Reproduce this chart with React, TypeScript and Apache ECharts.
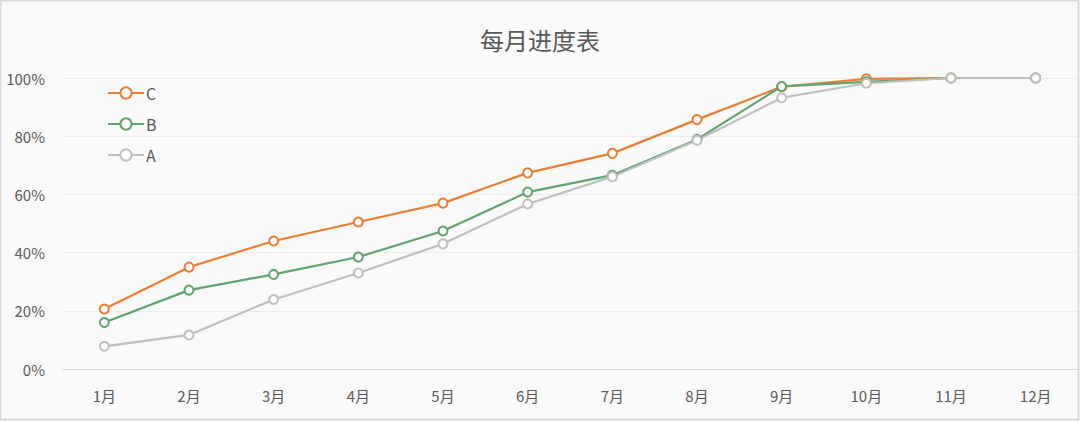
import React, { useEffect, useRef } from "react";
import * as echarts from "echarts";

const months = ["1月", "2月", "3月", "4月", "5月", "6月", "7月", "8月", "9月", "10月", "11月", "12月"];
const seriesC = [0.206, 0.35, 0.44, 0.505, 0.57, 0.674, 0.741, 0.857, 0.97, 0.997, 1.0, 1.0];
const seriesB = [0.16, 0.271, 0.325, 0.385, 0.474, 0.608, 0.666, 0.789, 0.971, 0.987, 1.0, 1.0];
const seriesA = [0.078, 0.117, 0.239, 0.33, 0.43, 0.567, 0.661, 0.786, 0.932, 0.982, 1.0, 1.0];
const yTicks = [0, 0.2, 0.4, 0.6, 0.8, 1.0];

const FONT = "'Noto Sans CJK SC', 'Noto Sans', sans-serif";

export default function App() {
  const ref = useRef<HTMLDivElement>(null);
  useEffect(() => {
    document.body.style.margin = "0";
    if (!ref.current) return;
    const chart = echarts.init(ref.current, null, { renderer: "svg" });
    const mk = (name: string, data: number[], color: string) => ({
      name,
      type: "line",
      data,
      symbol: "emptyCircle",
      symbolSize: 9,
      lineStyle: { color, width: 2.2 },
      itemStyle: { color, borderWidth: 1.6 },
    });
    chart.setOption({
      animation: false,
      backgroundColor: "#fafafa",
      textStyle: { fontFamily: FONT },
      title: {
        text: "每月进度表",
        left: "center",
        top: 22,
        textStyle: { fontSize: 24, fontWeight: "normal", color: "#595959", fontFamily: FONT },
      },
      legend: {
        orient: "vertical",
        left: 107,
        top: 85,
        padding: 0,
        itemWidth: 36,
        itemHeight: 14,
        itemGap: 15,
        data: ["C", "B", "A"],
        textStyle: { fontSize: 16, lineHeight: 14, color: "#595959", fontFamily: FONT, padding: [0, 0, 0, -3] },
      },
      grid: { left: 62, right: 2, top: 78, bottom: 52, containLabel: false },
      xAxis: {
        type: "category",
        data: months,
        boundaryGap: true,
        axisLine: { lineStyle: { color: "#d9d9d9", width: 1 } },
        axisTick: { show: false },
        axisLabel: { color: "#595959", fontSize: 15, margin: 19, fontFamily: FONT },
      },
      yAxis: {
        type: "value",
        min: yTicks[0],
        max: yTicks[yTicks.length - 1],
        interval: 0.2,
        axisLine: { show: false },
        axisTick: { show: false },
        splitLine: { lineStyle: { color: "#ececec", width: 1 } },
        axisLabel: {
          color: "#595959",
          fontSize: 15,
          margin: 17,
          fontFamily: FONT,
          formatter: (v: number) => Math.round(v * 100) + "%",
        },
      },
      graphic: [
        {
          type: "rect",
          shape: { x: 0.5, y: 0.5, width: 1078, height: 419 },
          style: { fill: "none", stroke: "#d9d9d9", lineWidth: 2 },
          silent: true,
          z: 100,
        },
      ],
      series: [
        mk("C", seriesC, "#ed7d31"),
        mk("B", seriesB, "#5fa36f"),
        mk("A", seriesA, "#bfbfbf"),
      ],
    });
    return () => chart.dispose();
  }, []);
  return <div ref={ref} style={{ width: 1080, height: 421 }} />;
}
